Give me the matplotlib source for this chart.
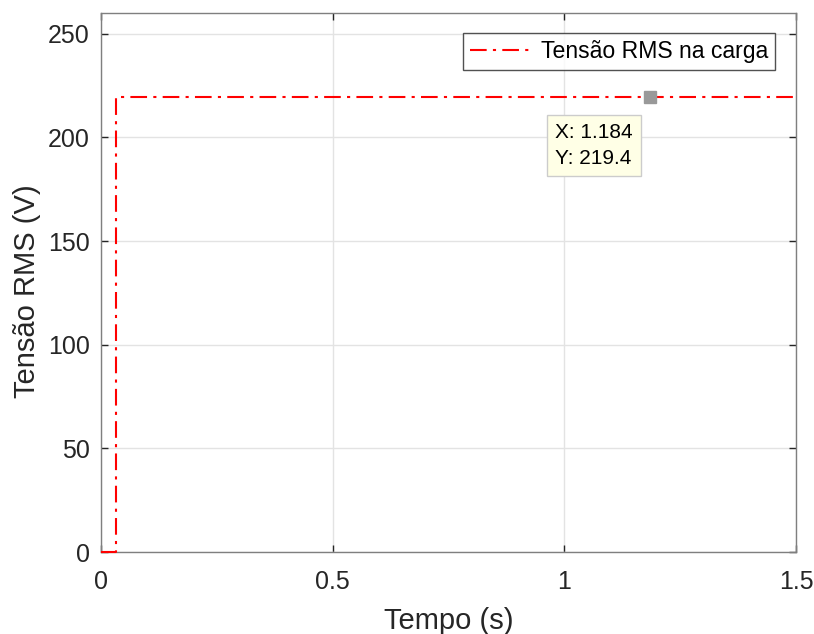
import numpy as np
import matplotlib as mpl
import matplotlib.pyplot as plt

mpl.rcParams['font.family'] = ['Liberation Sans', 'DejaVu Sans']

# RMS voltage on the load: zero until the first cycle completes, then steady
tempo = [0.0, 0.0317, 0.0317, 1.5]
tensao_rms = [0.0, 0.0, 219.4, 219.4]

# data tip
tip_x = 1.184
tip_y = 219.4

x_ticks = [0, 0.5, 1, 1.5]
x_tick_labels = ['0', '0.5', '1', '1.5']
y_ticks = [0, 50, 100, 150, 200, 250]

text_color = '#262626'
spine_color = '#7f7f7f'

fig = plt.figure(figsize=(8.14, 6.34), dpi=100)
ax = fig.add_axes([0.124, 0.1293, 0.854, 0.8502])

ax.plot(tempo, tensao_rms, color='red', linestyle='-.', linewidth=1.5,
        label='Tensão RMS na carga', dashes=(8, 3, 1.5, 3), zorder=3,
        clip_on=False)

ax.set_xlim(0, 1.5)
ax.set_ylim(0, 260)
ax.set_xticks(x_ticks)
ax.set_xticklabels(x_tick_labels)
ax.set_yticks(y_ticks)

ax.grid(True, color='#e3e3e3', linewidth=1.0)
ax.set_axisbelow(True)
ax.tick_params(direction='in', length=5, width=1, colors=text_color,
               labelsize=18, labelcolor=text_color, top=True, right=True)
ax.tick_params(axis='x', pad=13)
ax.tick_params(axis='y', pad=8)
for s in ax.spines.values():
    s.set_color(spine_color)
    s.set_linewidth(1.0)
    s.set_zorder(2)

ax.set_xlabel('Tempo (s)', fontsize=21, color=text_color, labelpad=9)
ax.set_ylabel('Tensão RMS (V)', fontsize=21, color=text_color)
ax.yaxis.set_label_coords(-0.086, 0.483)

leg = ax.legend(loc='upper right', fontsize=16.6, frameon=True, fancybox=False,
                bbox_to_anchor=(0.970, 0.962), borderaxespad=0.0,
                handlelength=2.7, handletextpad=0.4, borderpad=0.3)
leg.get_frame().set_edgecolor('#262626')
leg.get_frame().set_linewidth(1.0)
for t in leg.get_texts():
    t.set_color('#000000')

# data tip marker and label
ax.plot([tip_x], [tip_y], marker='s', markersize=9, color='#999999',
        linestyle='none', zorder=5)
ax.annotate('X: %.3f\nY: %.1f' % (tip_x, tip_y), xy=(tip_x, tip_y),
            xytext=(-68, -18.5), textcoords='offset points', ha='left', va='top',
            fontsize=15, color='#000000', linespacing=1.45,
            bbox=dict(boxstyle='square,pad=0.4', facecolor='#ffffe6',
                      edgecolor='#cccccc', linewidth=1.0), zorder=6)

fig.savefig('out.png', dpi=100)
